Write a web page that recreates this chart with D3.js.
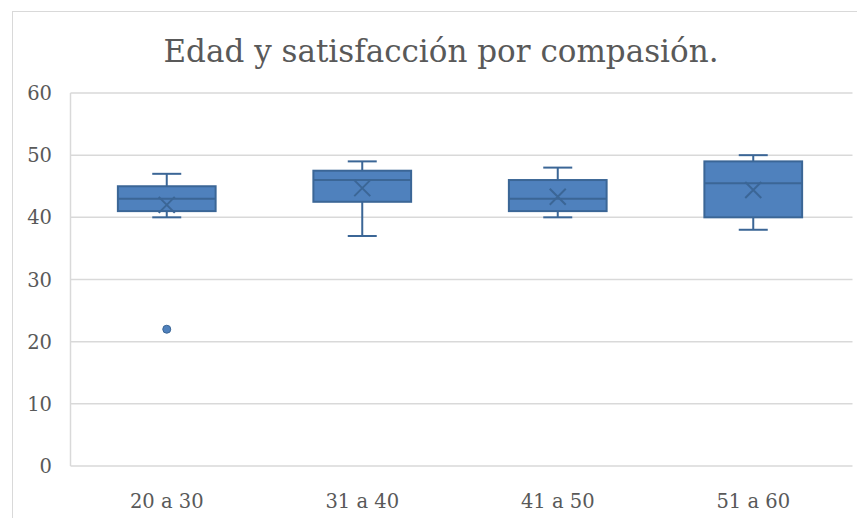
<!DOCTYPE html>
<html>
<head>
<meta charset="utf-8">
<script src="https://cdn.jsdelivr.net/npm/d3@7"></script>
<style>
  body { margin: 0; background: #fff; }
  svg text { font-family: "DejaVu Serif", "Liberation Serif", serif; fill: #595959; }
</style>
</head>
<body>
<svg id="chart" width="857" height="518"></svg>
<script>
// Data
var groups = ['20 a 30', '31 a 40', '41 a 50', '51 a 60'];
var whiskerLow = [40, 37, 40, 38];
var q1 = [41, 42.5, 41, 40];
var median = [43, 46, 43, 45.5];
var q3 = [45, 47.5, 46, 49];
var whiskerHigh = [47, 49, 48, 50];
var means = [42, 44.7, 43.3, 44.4];
var outliers = [{ group: '20 a 30', value: 22 }];
var yTicks = [0, 10, 20, 30, 40, 50, 60];

var rows = groups.map((g, i) => ({
    group: g, lo: whiskerLow[i], q1: q1[i], med: median[i], q3: q3[i], hi: whiskerHigh[i], mean: means[i],
}));

var svg = d3.select('#chart');
var margin = { left: 70.5, right: 4.5, top: 93, bottom: 52 };
var width = 857, height = 518;

// outer chart frame (cropped at right/bottom)
svg.append('rect')
    .attr('x', 12.5).attr('y', 11.5)
    .attr('width', 900).attr('height', 600)
    .attr('fill', 'none').attr('stroke', '#d9d9d9');

svg.append('text')
    .attr('x', 441).attr('y', 62)
    .attr('text-anchor', 'middle')
    .style('font-size', '31px')
    .text('Edad y satisfacción por compasión.');

var x = d3.scaleBand().domain(groups)
    .range([margin.left, width - margin.right]);
var y = d3.scaleLinear().domain([0, 60])
    .range([height - margin.bottom, margin.top]);

// gridlines
svg.append('g').selectAll('line').data(yTicks).join('line')
    .attr('x1', margin.left).attr('x2', width - margin.right)
    .attr('y1', (d) => y(d)).attr('y2', (d) => y(d))
    .attr('stroke', '#d9d9d9').attr('stroke-width', 1.5);

// left axis line
svg.append('line')
    .attr('x1', margin.left).attr('x2', margin.left)
    .attr('y1', y(0)).attr('y2', y(60))
    .attr('stroke', '#d9d9d9').attr('stroke-width', 1.5);

// y labels
svg.append('g').selectAll('text').data(yTicks).join('text')
    .attr('x', 52).attr('y', (d) => y(d) + 7)
    .attr('text-anchor', 'end')
    .style('font-size', '19.5px')
    .text((d) => d);

// x labels
svg.append('g').selectAll('text').data(groups).join('text')
    .attr('x', (d) => x(d) + x.bandwidth() / 2 - 1.5).attr('y', 508)
    .attr('text-anchor', 'middle')
    .style('font-size', '19.5px')
    .text((d) => d);

var fill = '#4f81bd', dark = '#3b6696';
var boxW = x.bandwidth() * 0.5, capW = 29;
var cx = (d) => x(d.group) + x.bandwidth() / 2 - 1.5;

var box = svg.append('g').selectAll('g').data(rows).join('g');

// whiskers
box.append('line')
    .attr('x1', cx).attr('x2', cx)
    .attr('y1', (d) => y(d.hi)).attr('y2', (d) => y(d.lo))
    .attr('stroke', dark).attr('stroke-width', 2);
['hi', 'lo'].forEach((k) => {
    box.append('line')
        .attr('x1', (d) => cx(d) - capW / 2).attr('x2', (d) => cx(d) + capW / 2)
        .attr('y1', (d) => y(d[k])).attr('y2', (d) => y(d[k]))
        .attr('stroke', dark).attr('stroke-width', 2);
});

box.append('rect')
    .attr('x', (d) => cx(d) - boxW / 2).attr('width', boxW)
    .attr('y', (d) => y(d.q3)).attr('height', (d) => y(d.q1) - y(d.q3))
    .attr('fill', fill).attr('stroke', dark).attr('stroke-width', 2);

box.append('line')
    .attr('x1', (d) => cx(d) - boxW / 2).attr('x2', (d) => cx(d) + boxW / 2)
    .attr('y1', (d) => y(d.med)).attr('y2', (d) => y(d.med))
    .attr('stroke', dark).attr('stroke-width', 2);

// mean markers (x)
var m = 8;
box.append('path')
    .attr('d', (d) => {
        var px = cx(d), py = y(d.mean);
        return `M${px - m},${py - m}L${px + m},${py + m}M${px - m},${py + m}L${px + m},${py - m}`;
    })
    .attr('stroke', dark).attr('stroke-width', 2).attr('fill', 'none');

// outliers
svg.append('g').selectAll('circle').data(outliers).join('circle')
    .attr('cx', (d) => x(d.group) + x.bandwidth() / 2 - 1.5)
    .attr('cy', (d) => y(d.value))
    .attr('r', 4)
    .attr('fill', fill).attr('stroke', dark).attr('stroke-width', 1);
</script>
</body>
</html>
